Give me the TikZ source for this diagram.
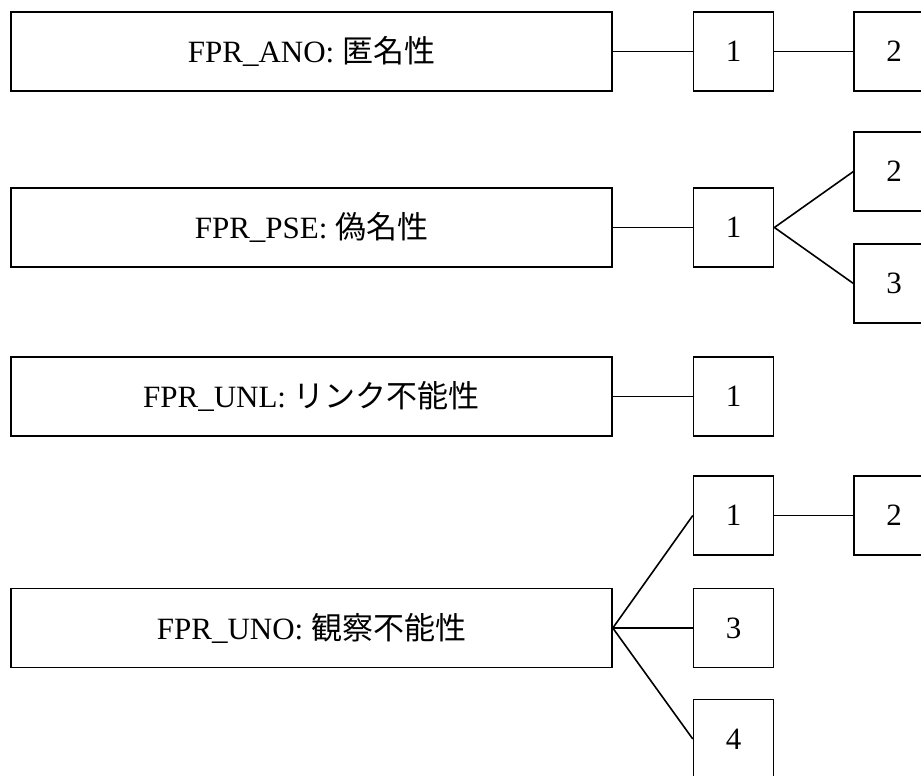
\documentclass[tikz,border=0pt]{standalone}
\usepackage{fontspec}
\setmainfont{Liberation Serif}
\newfontfamily\jpfont{Noto Sans CJK JP}
\usetikzlibrary{positioning}

\begin{document}
\begin{tikzpicture}[
        x=1pt, y=-1pt,
        node distance=80pt,
        % Styles
        bigbox/.style={rectangle, draw=black, line width=1.6pt, inner sep=0pt,
                       minimum width=601pt, minimum height=79pt, font=\fontsize{31}{36}\selectfont},
        numbox/.style={rectangle, draw=black, line width=1.6pt, inner sep=0pt,
                       minimum width=80pt, minimum height=79pt, font=\fontsize{31}{36}\selectfont},
        link/.style={line width=1.6pt, black},
    ]
    \useasboundingbox (0,0) rectangle (921,776);

    % Families (left column)
    \node[bigbox] (ano) at (311.5,51.5) {FPR\_ANO: {\jpfont 匿名性}};
    \node[bigbox] (pse) at (311.5,227.5) {FPR\_PSE: {\jpfont 偽名性}};
    \node[bigbox] (unl) at (311.5,396.5) {FPR\_UNL: {\jpfont リンク不能性}};
    \node[bigbox] (uno) at (311.5,628) {FPR\_UNO: {\jpfont 観察不能性}};

    % FPR_ANO components
    \node[numbox, right=of ano] (ano1) {1};
    \node[numbox, right=79pt of ano1] (ano2) {2};
    \draw[link] (ano) -- (ano1);
    \draw[link] (ano1) -- (ano2);

    % FPR_PSE components
    \node[numbox, right=of pse] (pse1) {1};
    \node[numbox, right=79pt of pse1, yshift=56pt] (pse2) {2};
    \node[numbox, right=79pt of pse1, yshift=-56pt] (pse3) {3};
    \draw[link] (pse) -- (pse1);
    \draw[link] (pse1.east) -- (pse2.west);
    \draw[link] (pse1.east) -- (pse3.west);

    % FPR_UNL components
    \node[numbox, right=of unl] (unl1) {1};
    \draw[link] (unl) -- (unl1);

    % FPR_UNO components
    \node[numbox, right=of uno, yshift=112.5pt] (uno1) {1};
    \node[numbox, right=of uno] (uno3) {3};
    \node[numbox, right=of uno, yshift=-111pt] (uno4) {4};
    \node[numbox, right=79pt of uno1] (uno2) {2};
    \draw[link] (uno.east) -- (uno1.west);
    \draw[link] (uno.east) -- (uno3.west);
    \draw[link] (uno.east) -- (uno4.west);
    \draw[link] (uno1) -- (uno2);

\end{tikzpicture}
\end{document}
